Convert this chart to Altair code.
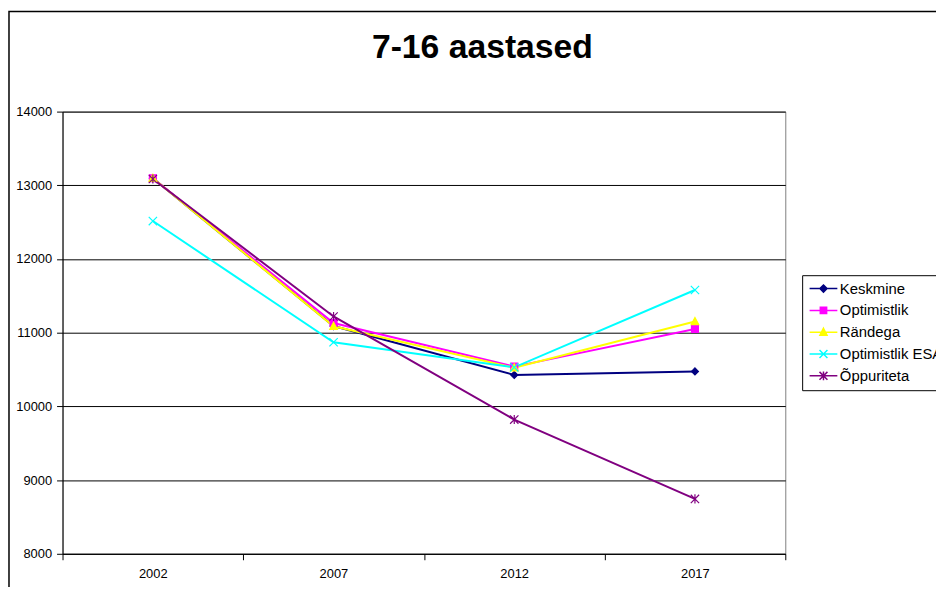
import altair as alt
import pandas as pd

# ---- data ----
years = [2002, 2007, 2012, 2017]
series_names = ["Keskmine", "Optimistlik", "Rändega", "Optimistlik ESA", "Õppuriteta"]
keskmine = [13095, 11090, 10427, 10475]
optimistlik = [13095, 11131, 10540, 11050]
randega = [13095, 11087, 10525, 11153]
optimistlik_esa = [12515, 10870, 10530, 11579]
oppuriteta = [13085, 11220, 9821, 8745]
series_colors = ["#000080", "#FF00FF", "#FFFF00", "#00FFFF", "#800080"]
y_ticks = [8000, 9000, 10000, 11000, 12000, 13000, 14000]
x_bounds = [1999.5, 2004.5, 2009.5, 2014.5, 2019.5]

values = [keskmine, optimistlik, randega, optimistlik_esa, oppuriteta]
rows = []
for name, vals in zip(series_names, values):
    for yr, v in zip(years, vals):
        rows.append({"series": name, "year": yr, "value": v})
df = pd.DataFrame(rows)

# marker shapes for the data points (unit square paths)
marker_paths = [
    "M0,-1L1,0L0,1L-1,0Z",
    "M-1,-1L1,-1L1,1L-1,1Z",
    "M0,-1.15L1.1,0.9L-1.1,0.9Z",
    "M-1.2,-1.2L1.2,1.2M-1.2,1.2L1.2,-1.2",
    "M-1.2,-1.2L1.2,1.2M-1.2,1.2L1.2,-1.2M0,-1.3L0,1.3",
]
# legend symbols: a short line with the marker in the middle
legend_paths = [
    "M-1.5,0L5.5,0M2,-0.9L2.9,0L2,0.9L1.1,0Z",
    "M-1.5,0L5.5,0M1.2,-0.8L2.8,-0.8L2.8,0.8L1.2,0.8Z",
    "M-1.5,0L5.5,0M2,-1L2.9,0.75L1.1,0.75Z",
    "M-1.5,0L5.5,0M1,-1L3,1M1,1L3,-1",
    "M-1.5,0L5.5,0M1,-1L3,1M1,1L3,-1M2,-1.1L2,1.1",
]

FONT = "Liberation Sans"

x_enc = alt.X(
    "year:Q",
    scale=alt.Scale(domain=[x_bounds[0], x_bounds[-1]], nice=False, zero=False),
    axis=alt.Axis(
        values=x_bounds,
        labelExpr="datum.value < 2019 ? toString(datum.value + 2.5) : ''",
        labelOffset=91,
        labelFlush=False,
        labelOverlap=False,
        grid=False,
        tickSize=6,
        tickColor="black",
        domainColor="black",
        labelPadding=8,
        labelFont=FONT,
        labelFontSize=13,
        labelColor="black",
        title=None,
    ),
)
y_enc = alt.Y(
    "value:Q",
    scale=alt.Scale(domain=[8000, 14000], nice=False, zero=False),
    axis=alt.Axis(
        values=y_ticks,
        format="d",
        grid=True,
        gridColor="black",
        gridWidth=1,
        tickSize=6,
        tickColor="black",
        domainColor="black",
        labelPadding=5,
        labelFont=FONT,
        labelFontSize=13,
        labelColor="black",
        title=None,
    ),
)

base = alt.Chart(df)

frame = alt.Chart(pd.DataFrame({"a": [0]})).mark_rect(
    fillOpacity=0, stroke="#000000", strokeWidth=1.5
).encode(
    x=alt.value(-54), x2=alt.value(950), y=alt.value(-101), y2=alt.value(700)
)

lines = base.mark_line(strokeWidth=2).encode(
    x=x_enc,
    y=y_enc,
    color=alt.Color("series:N", scale=alt.Scale(domain=series_names, range=series_colors), legend=None),
)

points = base.mark_point(filled=True, size=49, strokeWidth=1.2, opacity=1).encode(
    x=x_enc,
    y=y_enc,
    fill=alt.Fill("series:N", scale=alt.Scale(domain=series_names, range=series_colors), legend=None),
    stroke=alt.Stroke("series:N", scale=alt.Scale(domain=series_names, range=series_colors), legend=None),
    shape=alt.Shape("series:N", scale=alt.Scale(domain=series_names, range=marker_paths), legend=None),
)

leg = alt.Legend(
    title=None,
    orient="none",
    legendX=746,
    legendY=165,
    direction="vertical",
    strokeColor="black",
    fillColor="white",
    padding=6,
    cornerRadius=0,
    labelFont=FONT,
    labelFontSize=15,
    labelColor="black",
    labelOffset=17,
    rowPadding=6,
    symbolSize=64,
    symbolStrokeWidth=1.5,
    symbolOpacity=1,
)

legend_layer = base.transform_filter("datum.value < 0").mark_point(
    filled=True, size=64, strokeWidth=1.5, opacity=1
).encode(
    fill=alt.Fill("series:N", scale=alt.Scale(domain=series_names, range=series_colors), legend=leg),
    stroke=alt.Stroke("series:N", scale=alt.Scale(domain=series_names, range=series_colors), legend=leg),
    shape=alt.Shape("series:N", scale=alt.Scale(domain=series_names, range=legend_paths), legend=leg),
)

chart = alt.layer(frame, lines, points, legend_layer).resolve_scale(
    shape="independent", fill="independent", stroke="independent"
).properties(
    width=729,
    height=446,
    autosize=alt.AutoSizeParams(type="none"),
    padding={"left": 55, "top": 102, "right": 152, "bottom": 31},
    background="white",
    title=alt.Title(
        "7-16 aastased",
        font=FONT,
        fontSize=34,
        fontWeight="bold",
        color="black",
        anchor="middle",
        frame="group",
        dx=59,
        offset=-82,
        baseline="alphabetic",
    ),
).configure_view(
    fill="#C0C0C0", stroke="#808080", strokeWidth=1
)

chart.save("out.html", embed_options={"renderer": "svg", "actions": False})
